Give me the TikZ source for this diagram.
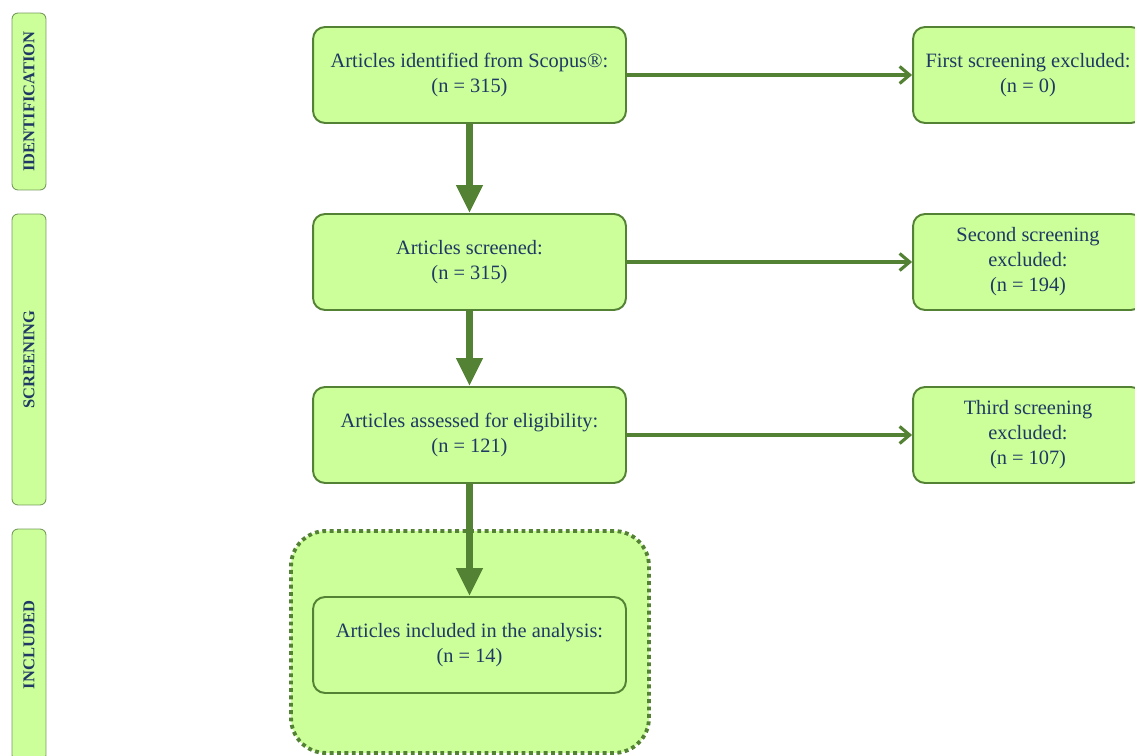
\documentclass[tikz,border=0pt]{standalone}
\usepackage{fontspec}
\setmainfont{Liberation Serif}
\usetikzlibrary{arrows.meta, positioning}
\definecolor{boxfill}{HTML}{CCFF99}
\definecolor{boxline}{HTML}{548235}
\definecolor{boxtext}{HTML}{1F3864}
\tikzset{
    every node/.style={font=\fontsize{11.6}{14.2}\selectfont, text=boxtext}
}
\begin{document}
\begin{tikzpicture}[
    x=0.02cm,y=-0.02cm,
    prismabox/.style={
        draw=boxline,
        fill=boxfill,
        line width=1.1pt,
        rounded corners=0.24cm,
        minimum width=6.26cm,
        minimum height=1.92cm,
        align=center
    },
    prismaside/.style={
        draw=boxline,
        fill=boxfill,
        line width=1.1pt,
        rounded corners=0.24cm,
        minimum width=4.6cm,
        minimum height=1.92cm,
        align=center
    },
    prismaphase/.style={
        draw=boxline!80,
        fill=boxfill,
        line width=0.5pt,
        rounded corners=0.12cm,
        rotate=90,
        minimum height=0.68cm,
        inner sep=0pt,
        font=\fontsize{9.4}{11}\selectfont\bfseries
    },
    prismagroup/.style={
        draw=boxline,
        fill=boxfill,
        line width=2.2pt,
        dotted,
        rounded corners=0.7cm,
        minimum width=7.16cm,
        minimum height=4.44cm
    },
    prismaflow/.style={-{Triangle[width=0.5cm,length=0.56cm]}, boxline, line width=4pt},
    prismaline/.style={-{Straight Barb[length=0.2cm,width=0.34cm]}, boxline, line width=1.8pt}
]
\useasboundingbox (0,0) rectangle (1135,756);

% phase labels
\node[prismaphase, minimum width=3.54cm] (ident) at (29,101.5) {IDENTIFICATION};
\node[prismaphase, minimum width=5.82cm] (screen) at (29,359.5) {SCREENING};
\node[prismaphase, minimum width=4.64cm] (incl) at (29,645) {INCLUDED};

% included group
\node[prismagroup] (group) at (470,642) {};

% main flow
\node[prismabox] (found) at (469.5,75) {Articles identified from Scopus®:\\(n = 315)};
\node[prismabox] (screened) at (469.5,262) {Articles screened:\\(n = 315)};
\node[prismabox] (assessed) at (469.5,435) {Articles assessed for eligibility:\\(n = 121)};
\node[prismabox] (included) at (469.5,645) {Articles included in the analysis:\\(n = 14)};

\draw[prismaflow] (found) -- (screened);
\draw[prismaflow] (screened) -- (assessed);
\draw[prismaflow] (assessed) -- (included);

% exclusions
\node[prismaside] (excl1) at (1028,75) {First screening excluded:\\(n = 0)};
\node[prismaside] (excl2) at (1028,262) {Second screening\\excluded:\\(n = 194)};
\node[prismaside] (excl3) at (1028,435) {Third screening\\excluded:\\(n = 107)};

\draw[prismaline] (found) -- (excl1);
\draw[prismaline] (screened) -- (excl2);
\draw[prismaline] (assessed) -- (excl3);

\end{tikzpicture}
\end{document}
